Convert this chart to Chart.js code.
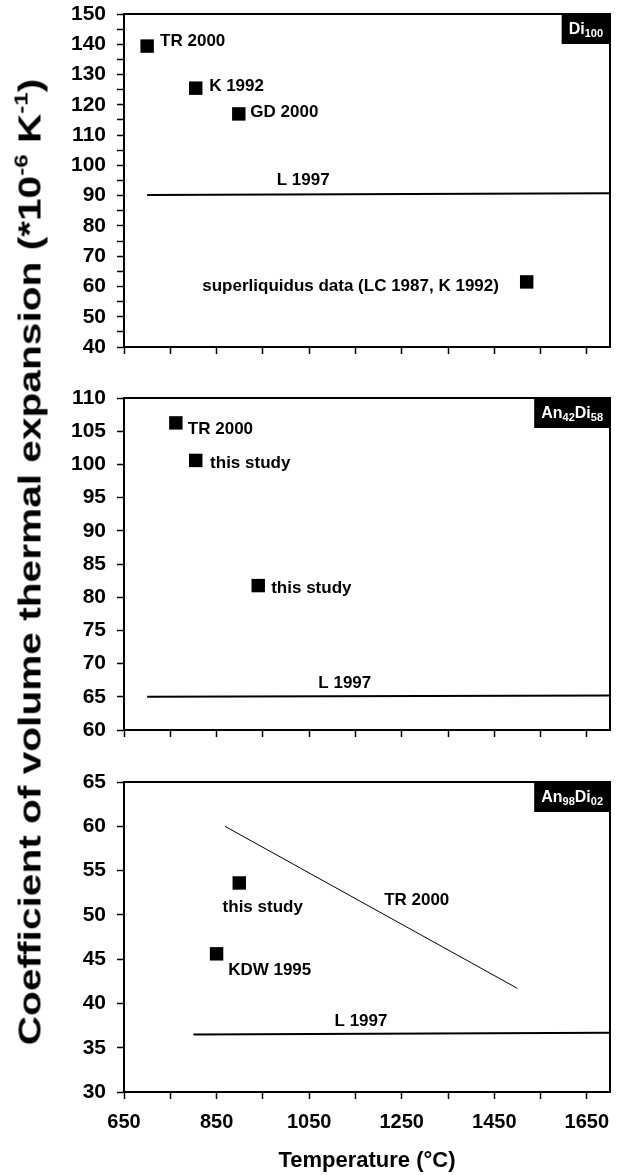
<!DOCTYPE html>
<html>
<head>
<meta charset="utf-8">
<script src="https://cdn.jsdelivr.net/npm/chart.js@4.4.1/dist/chart.umd.min.js"></script>
<style>
  body { margin: 0; background: #fff; }
  #wrap { position: relative; width: 624px; height: 1175px; overflow: hidden; font-family: "Liberation Sans", Arial, sans-serif; }
  canvas { position: absolute; left: 0; }
  #ytitle {
    position: absolute; left: 30px; top: 562px;
    transform: translate(-50%, -50%) rotate(-90deg) scaleX(1.27);
    white-space: nowrap; font-weight: bold; font-size: 32px; color: #000;
  }
  #ytitle sup { font-size: 19px; vertical-align: 13px; line-height: 0; }
</style>
</head>
<body>
<div id="wrap">
  <canvas id="c1" width="624" height="365" style="top:0"></canvas>
  <canvas id="c2" width="624" height="385" style="top:365px"></canvas>
  <canvas id="c3" width="624" height="435" style="top:740px"></canvas>
  <div id="ytitle">Coefficient of volume thermal expansion (*10<sup>-6</sup> K<sup>-1</sup>)</div>
</div>
<script>
// temperature axis
const tempTickMarks = [650, 750, 850, 950, 1050, 1150, 1250, 1350, 1450, 1550, 1650];
const tempTickLabels = [650, 850, 1050, 1250, 1450, 1650];

// Di100
const diTemp = [700, 805, 898, 1520];
const diCoef = [139.4, 125.5, 117.0, 61.5];
const diLTemp = [700, 1700];
const diLCoef = [90.2, 90.8];

// An42Di58
const an42Temp = [762, 805, 940];
const an42Coef = [106.25, 100.6, 81.75];
const an42LTemp = [700, 1700];
const an42LCoef = [65.0, 65.2];

// An98Di02
const an98Temp = [899, 850];
const an98Coef = [53.6, 45.6];
const an98LTemp = [800, 1700];
const an98LCoef = [36.5, 36.7];
const an98TRTemp = [868, 1500];
const an98TRCoef = [60.0, 41.7];

const FONT = '"Liberation Sans", Arial, sans-serif';

function pts(xs, ys) { return xs.map((x, i) => ({ x: x, y: ys[i] })); }

// frame, text notes and composition tag
const frame = {
  id: 'frame',
  afterDatasetsDraw(chart, args, opts) {
    const ctx = chart.ctx, a = chart.chartArea;
    const xs = chart.scales.x, ys = chart.scales.y;
    ctx.save();
    ctx.strokeStyle = '#000';
    ctx.lineWidth = 2;
    ctx.strokeRect(a.left, a.top, a.right - a.left, a.bottom - a.top);

    ctx.fillStyle = '#000';
    ctx.font = 'bold 17px ' + FONT;
    ctx.textBaseline = 'middle';
    (opts.notes || []).forEach(n => {
      ctx.textAlign = n.align;
      ctx.fillText(n.text, xs.getPixelForValue(n.t), ys.getPixelForValue(n.v));
    });

    // tag box top right
    const parts = opts.tag || [];
    ctx.textAlign = 'left';
    ctx.textBaseline = 'alphabetic';
    let w = 0;
    parts.forEach(p => {
      ctx.font = (p[1] ? 'bold 11px ' : 'bold 16px ') + FONT;
      w += ctx.measureText(p[0]).width;
    });
    const bw = w + 14, bh = 30;
    ctx.fillRect(a.right - bw, a.top, bw, bh);
    ctx.fillStyle = '#fff';
    let px = a.right - bw + 7;
    parts.forEach(p => {
      ctx.font = (p[1] ? 'bold 11px ' : 'bold 16px ') + FONT;
      ctx.fillText(p[0], px, a.top + (p[1] ? 23 : 20));
      px += ctx.measureText(p[0]).width;
    });
    ctx.restore();
  }
};

function makePanel(id, o) {
  const datasets = [];
  o.lines.forEach(l => datasets.push({
    type: 'line', data: l.data, borderColor: '#000', borderWidth: l.width,
    pointRadius: 0, fill: false, tension: 0
  }));
  datasets.push({
    type: 'scatter', data: o.points, pointStyle: 'rect', pointRadius: 9.5,
    backgroundColor: '#000', borderColor: '#000', borderWidth: 0
  });

  new Chart(document.getElementById(id), {
    data: { datasets: datasets },
    options: {
      responsive: false,
      animation: false,
      devicePixelRatio: 1,
      layout: { padding: { left: 0, right: 14, top: o.top, bottom: 0 } },
      plugins: {
        legend: { display: false },
        tooltip: { enabled: false },
        frame: { notes: o.notes, tag: o.tag }
      },
      scales: {
        x: {
          type: 'linear', min: 650, max: 1700,
          afterBuildTicks: s => { s.ticks = tempTickMarks.map(v => ({ value: v })); },
          afterFit: s => { s.height = o.xh; s.paddingLeft = 0; s.paddingRight = 0; },
          grid: { drawOnChartArea: false, drawTicks: true, tickLength: 7, tickColor: '#000', tickWidth: 1.5 },
          border: { color: '#000', width: 2 },
          ticks: {
            autoSkip: false, maxRotation: 0, padding: 11, color: '#000',
            font: { family: FONT, size: 20, weight: 'bold' },
            callback: v => (o.showX && tempTickLabels.includes(v)) ? String(v) : ''
          },
          title: {
            display: !!o.showX, text: 'Temperature (°C)', color: '#000',
            font: { family: FONT, size: 22, weight: 'bold' }, padding: { top: 0, bottom: 1 }
          }
        },
        y: {
          type: 'linear', min: o.yMin, max: o.yMax,
          afterFit: s => { s.width = 124; s.paddingTop = 0; s.paddingBottom = 0; },
          grid: { drawOnChartArea: false, drawTicks: true, tickLength: 7, tickColor: '#000', tickWidth: 1.5 },
          border: { color: '#000', width: 2 },
          ticks: {
            stepSize: 5, autoSkip: false, padding: 11, color: '#000',
            font: { family: FONT, size: 21, weight: 'bold' },
            callback: v => (v % o.yLabelEvery === 0) ? String(v) : ''
          }
        }
      }
    },
    plugins: [frame]
  });
}

makePanel('c1', {
  top: 14, xh: 18, yMin: 40, yMax: 150, yLabelEvery: 10, showX: false,
  points: pts(diTemp, diCoef),
  lines: [{ data: pts(diLTemp, diLCoef), width: 2 }],
  tag: [['Di', 0], ['100', 1]],
  notes: [
    { text: 'TR 2000', t: 728, v: 141, align: 'left' },
    { text: 'K 1992', t: 834, v: 126, align: 'left' },
    { text: 'GD 2000', t: 923, v: 117.4, align: 'left' },
    { text: 'L 1997', t: 1037, v: 95, align: 'center' },
    { text: 'superliquidus data (LC 1987, K 1992)', t: 1460, v: 60.2, align: 'right' }
  ]
});

makePanel('c2', {
  top: 33, xh: 20, yMin: 60, yMax: 110, yLabelEvery: 5, showX: false,
  points: pts(an42Temp, an42Coef),
  lines: [{ data: pts(an42LTemp, an42LCoef), width: 2 }],
  tag: [['An', 0], ['42', 1], ['Di', 0], ['58', 1]],
  notes: [
    { text: 'TR 2000', t: 788, v: 105.35, align: 'left' },
    { text: 'this study', t: 836, v: 100.2, align: 'left' },
    { text: 'this study', t: 968, v: 81.35, align: 'left' },
    { text: 'L 1997', t: 1127, v: 67.1, align: 'center' }
  ]
});

makePanel('c3', {
  top: 42, xh: 83, yMin: 30, yMax: 65, yLabelEvery: 5, showX: true,
  points: pts(an98Temp, an98Coef),
  lines: [
    { data: pts(an98LTemp, an98LCoef), width: 2 },
    { data: pts(an98TRTemp, an98TRCoef), width: 1 }
  ],
  tag: [['An', 0], ['98', 1], ['Di', 0], ['02', 1]],
  notes: [
    { text: 'this study', t: 863, v: 50.8, align: 'left' },
    { text: 'KDW 1995', t: 875, v: 43.7, align: 'left' },
    { text: 'TR 2000', t: 1212, v: 51.6, align: 'left' },
    { text: 'L 1997', t: 1162, v: 38.0, align: 'center' }
  ]
});
</script>
</body>
</html>
